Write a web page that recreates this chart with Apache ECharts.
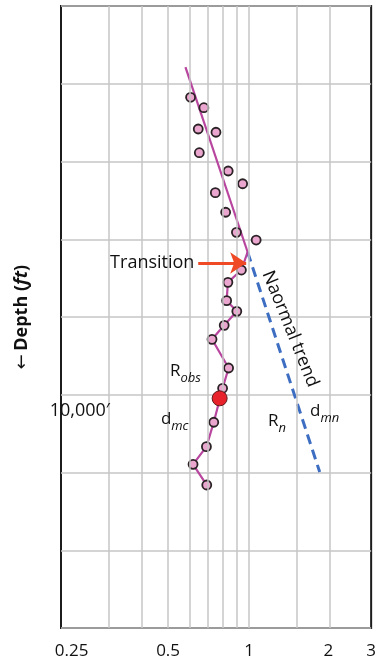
<!DOCTYPE html>
<html><head><meta charset="utf-8">
<script src="https://cdn.jsdelivr.net/npm/echarts@6/dist/echarts.min.js"></script>
<style>html,body{margin:0;padding:0;background:#fff}#c{width:379px;height:663px}</style>
</head><body><div id="c"></div>
<script>
// ---- data ----
const xTickValues = [0.219, 0.5, 1, 1.97, 2.84];
const xTickLabels = ['0.25', '0.5', '1', '2', '3'];
const xGridValues = [0.3, 0.4, 0.5, 0.6, 0.7, 0.8, 0.9, 1, 1.5, 2];
// shallow scattered observations (not connected)
const shallowR = [0.606, 0.679, 0.647, 0.753, 0.653, 0.836, 0.946, 0.749, 0.818, 0.897, 1.062];
const shallowDepth = [6174, 6308, 6582, 6624, 6887, 7122, 7286, 7401, 7653, 7911, 8010];
// normal trend
const trendR = [0.580, 0.987];
const trendDepth = [5785, 8164];
const dashedR = [0.987, 1.829];
const dashedDepth = [8164, 10994];
// transition point and observed (connected) values below it
const transitionR = 0.987;
const transitionDepth = 8164;
const obsR = [0.936, 0.834, 0.825, 0.900, 0.808, 0.728, 0.839, 0.797, 0.739, 0.694, 0.619, 0.696];
const obsDepth = [8396, 8554, 8790, 8927, 9107, 9287, 9656, 9917, 10354, 10668, 10895, 11161];
const redR = [0.777];
const redDepth = [10046];
// arrow
const arrowR = [0.647, 0.975];
const arrowDepth = 8305;
// annotation texts
const annTexts = ['Transition', 'Naormal trend', '{m|R}{s|obs}', '{m|d}{s|mc}', '{m|R}{s|n}', '{m|d}{s|mn}', '10,000′'];
const annR = [0.626, 1.421, 0.580, 0.529, 1.27, 1.908, 0.235];
const annDepth = [8305, 9154, 9733, 10350, 10376, 10248, 10209];

const MAG = '#b8469f';
const FONT = 'Open Sans';
const INK = '#111111';
const zip = (a, b) => a.map((v, i) => [v, b[i]]);

const ptStyle = { color: '#eaa6cf', borderColor: '#2b2226', borderWidth: 1.8, opacity: 1 };
const richSub = {
  m: { fontSize: 17, fontFamily: FONT, color: INK, lineHeight: 22, verticalAlign: 'top' },
  s: { fontSize: 13, fontFamily: FONT, fontStyle: 'italic', color: INK, lineHeight: 10, verticalAlign: 'bottom' }
};

const annData = annTexts.map((t, i) => {
  const item = { value: [annR[i], annDepth[i]], name: t, label: {} };
  if (i === 0) { item.label = { align: 'right', fontSize: 18 }; }
  if (i === 1) { item.label = { rotate: -68, fontSize: 18, align: 'center' }; }
  if (i === 6) { item.label = { fontSize: 18 }; }
  return item;
});

const chart = echarts.init(document.getElementById('c'), null, { renderer: 'canvas' });
chart.setOption({
  animation: false,
  backgroundColor: '#fff',
  grid: { left: 61, right: 4, top: 6, bottom: 35, show: true, borderColor: '#1c1c1c', borderWidth: 2, backgroundColor: 'transparent' },
  xAxis: {
    type: 'log', min: 0.2, max: 2.84,
    axisLine: { show: false }, axisTick: { show: false },
    splitLine: { show: false },
    axisLabel: {
      customValues: xTickValues,
      formatter: (v) => {
        let best = 0;
        xTickValues.forEach((t, i) => { if (Math.abs(t - v) < Math.abs(xTickValues[best] - v)) best = i; });
        return xTickLabels[best];
      },
      fontSize: 17, fontFamily: FONT, color: INK, margin: 15
    }
  },
  yAxis: {
    type: 'value', inverse: true, min: 5000, max: 13000, interval: 1000,
    axisLine: { show: false }, axisTick: { show: false }, axisLabel: { show: false },
    splitLine: { show: true, lineStyle: { color: '#c6c6c6', width: 1.5 } },
    name: '{a|←} {b|Depth (}{c|ft}{b|)}',
    nameLocation: 'middle', nameGap: 30,
    nameTextStyle: {
      rich: {
        a: { fontSize: 18, fontFamily: 'DejaVu Sans', color: INK },
        b: { fontSize: 18, fontFamily: FONT, fontWeight: 'bold', color: INK },
        c: { fontSize: 18, fontFamily: FONT, fontWeight: 'bold', fontStyle: 'italic', color: INK }
      }
    }
  },
  series: [
    {
      type: 'line', data: [], z: 1, silent: true,
      markLine: {
        silent: true, symbol: 'none', animation: false,
        label: { show: false },
        lineStyle: { color: '#c6c6c6', width: 1.5, type: 'solid' },
        data: xGridValues.map(v => ({ xAxis: v }))
      }
    },
    {
      name: 'Normal trend', type: 'line', z: 3, symbol: 'none',
      data: zip(trendR, trendDepth),
      lineStyle: { color: MAG, width: 2.2 }
    },
    {
      name: 'Normal trend (extrapolated)', type: 'line', z: 3, symbol: 'none',
      data: zip(dashedR, dashedDepth),
      lineStyle: { color: '#3d6ec2', width: 3, type: [10, 6] }
    },
    {
      name: 'Robs', type: 'line', z: 4, symbol: 'circle', symbolSize: 9,
      data: [{ value: [transitionR, transitionDepth], symbol: 'none' }].concat(zip(obsR, obsDepth)),
      lineStyle: { color: MAG, width: 2.2 },
      itemStyle: ptStyle
    },
    {
      name: 'Shallow', type: 'scatter', z: 4, symbol: 'circle', symbolSize: 9,
      data: zip(shallowR, shallowDepth),
      itemStyle: ptStyle
    },
    {
      name: 'Current', type: 'scatter', z: 5, symbol: 'circle', symbolSize: 15,
      data: zip(redR, redDepth),
      itemStyle: { color: '#e8222b', borderColor: '#5b1a1a', borderWidth: 1, opacity: 1 }
    },
    {
      type: 'line', data: [], z: 6, silent: true,
      markLine: {
        silent: true, symbol: ['none', 'arrow'], symbolSize: 16, animation: false,
        label: { show: false },
        lineStyle: { color: '#ef4a25', width: 3, type: 'solid' },
        itemStyle: { color: '#ef4a25' },
        data: [[{ coord: [arrowR[0], arrowDepth] }, { coord: [arrowR[1], arrowDepth] }]]
      }
    },
    {
      type: 'scatter', z: 7, silent: true, symbolSize: 0, clip: false,
      itemStyle: { opacity: 1 },
      data: annData,
      label: {
        show: true, position: 'inside', formatter: '{b}', opacity: 1,
        fontSize: 17, fontFamily: FONT, color: INK,
        align: 'center', verticalAlign: 'middle',
        rich: richSub
      }
    }
  ]
});
</script>
</body></html>
